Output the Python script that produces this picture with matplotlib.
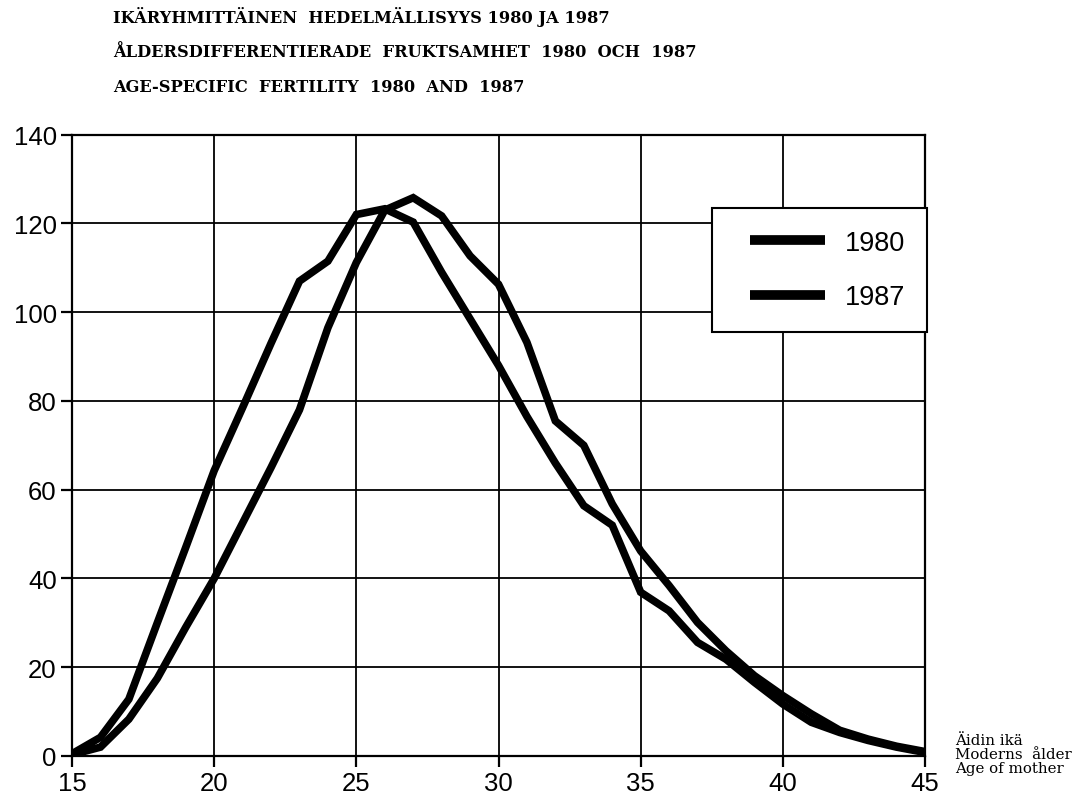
import matplotlib
matplotlib.use("Agg")
import matplotlib.pyplot as plt

ages = list(range(15, 46))
fert_1980 = [0.5, 4.2, 12.8, 30, 47, 64.3, 78.5, 93, 107, 111.5, 122, 123.3, 120.3, 109, 98.5, 88,
             76.5, 66, 56.4, 52, 36.9, 32.7, 25.6, 21.8, 16.6, 11.7, 7.6, 5.3, 3.5, 2.0, 0.8]
fert_1987 = [0.3, 2.0, 8.3, 17.5, 29, 40, 52.5, 65, 78, 96.5, 111.2, 123, 125.8, 121.7, 112.7, 106.3,
             93.2, 75.5, 70, 56.8, 46.2, 38.4, 30.1, 23.7, 18.1, 13.6, 9.5, 5.8, 3.8, 2.2, 1.0]
series_labels = ["1980", "1987"]
x_ticks = [15, 20, 25, 30, 35, 40, 45]
y_ticks = [0, 20, 40, 60, 80, 100, 120, 140]
title_lines = ["IKÄRYHMITTÄINEN  HEDELMÄLLISYYS 1980 JA 1987",
               "ÅLDERSDIFFERENTIERADE  FRUKTSAMHET  1980  OCH  1987",
               "AGE-SPECIFIC  FERTILITY  1980  AND  1987"]
xlabel_lines = ["Äidin ikä", "Moderns  ålder", "Age of mother"]

plt.rcParams['font.family'] = ['Liberation Sans', 'DejaVu Sans']

fig = plt.figure(figsize=(10.9, 8.03), dpi=100)
ax = fig.add_axes([72/1090, 1-757/803, (925-72)/1090, (757-135.7)/803])

ax.plot(ages, fert_1980, color='black', lw=5.5, solid_joinstyle='miter', label=series_labels[0], zorder=3)
ax.plot(ages, fert_1987, color='black', lw=5.5, solid_joinstyle='miter', label=series_labels[1], zorder=3)

ax.set_xlim(15, 45)
ax.set_ylim(0, 140)
ax.set_xticks(x_ticks)
ax.set_yticks(y_ticks)
ax.grid(True, color='black', lw=1.3)
for s in ax.spines.values():
    s.set_linewidth(1.6)
ax.tick_params(axis='both', direction='out', length=8, width=1.6, labelsize=18.5, pad=3)

leg = ax.legend(loc='upper right', bbox_to_anchor=(1.0025, 0.882), fontsize=19.5, frameon=True,
                fancybox=False, shadow=False, handlelength=3.36, handletextpad=0.74,
                borderpad=0.8, labelspacing=1.05, borderaxespad=0)
leg.get_frame().set_edgecolor('black')
leg.get_frame().set_linewidth(1.5)
leg.get_frame().set_alpha(1)
for line in leg.get_lines():
    line.set_linewidth(7)
    line.set_solid_capstyle('butt')
    xd = list(line.get_xdata())
    x0, x1 = xd[0], xd[-1]
    line.set_xdata([x1 - (x1 - x0) * 75 / 91, x1])
    line.set_ydata([line.get_ydata()[0]] * 2)

for i, t in enumerate(title_lines):
    fig.text(113/1090, 1-(17+35.5*i)/803, t, family='DejaVu Serif', weight='bold',
             fontsize=11.7, va='center', ha='left')

for i, t in enumerate(xlabel_lines):
    fig.text(955/1090, 1-(741+14*i)/803, t, family='DejaVu Serif', fontsize=10.8,
             va='center', ha='left')

fig.savefig('out.png', dpi=100, facecolor='white')
